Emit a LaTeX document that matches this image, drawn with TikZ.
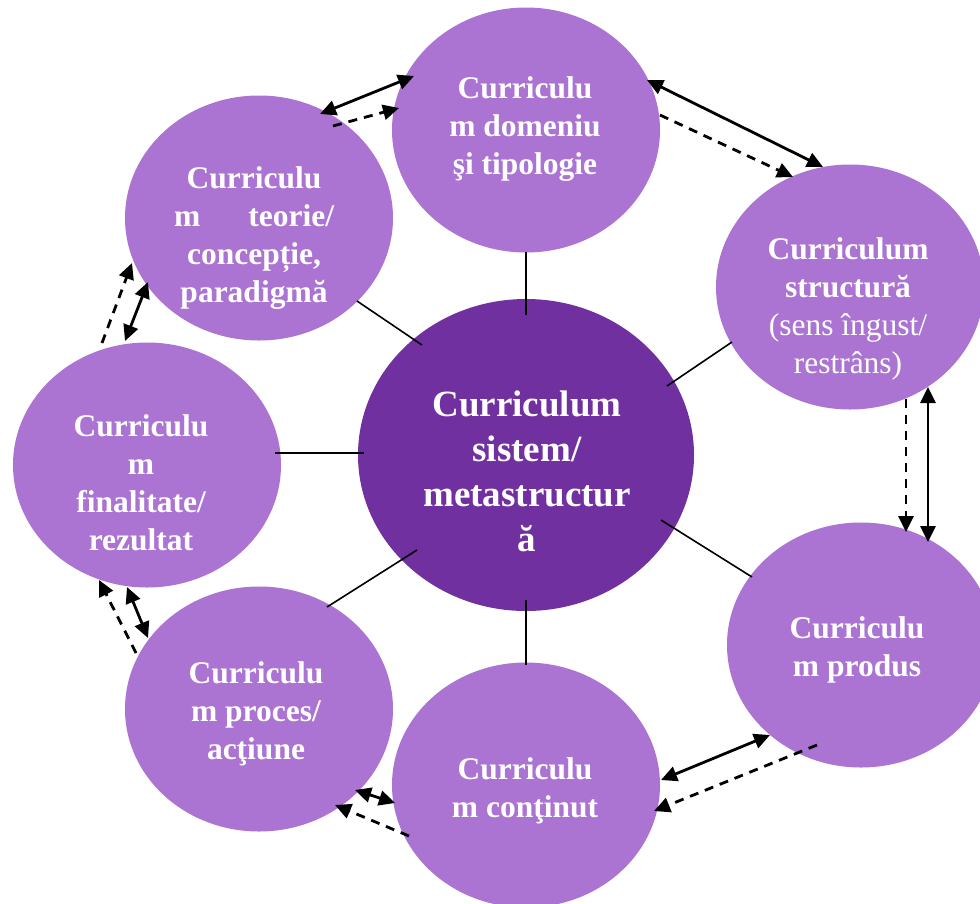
\documentclass[tikz,border=0pt]{standalone}
\usepackage{fontspec}
\setmainfont{Liberation Serif}
\usetikzlibrary{arrows.meta,shapes.geometric}
\definecolor{lightpurple}{RGB}{171,116,211}
\definecolor{darkpurple}{RGB}{112,48,160}
\tikzset{
  bubble/.style={ellipse, fill=lightpurple, draw=none, minimum width=268pt, minimum height=245pt, inner sep=0pt, outer sep=0pt},
  hub/.style={ellipse, fill=darkpurple, draw=none, minimum width=336pt, minimum height=312pt, inner sep=0pt, outer sep=0pt},
  lbl/.style={anchor=north, inner sep=0pt, text=white, align=center, font=\fontsize{31.5}{38}\selectfont\bfseries},
  hublbl/.style={lbl, font=\fontsize{37}{45}\selectfont\bfseries},
  spoke/.style={line width=1.6pt, black},
  link/.style={line width=2.8pt, {Triangle[length=16pt,width=15pt]}-{Triangle[length=16pt,width=15pt]}},
  flow/.style={line width=2.8pt, dash pattern=on 9pt off 7pt, -{Triangle[length=16pt,width=15pt]}},
}
\begin{document}
\begin{tikzpicture}[x=1pt,y=-1pt]
\useasboundingbox (0,0) rectangle (980,903);
% ellipses
\node[bubble] (dom) at (526,130) {};
\node[bubble] (teo) at (259,218) {};
\node[bubble] (str) at (850,287) {};
\node[hub]    (ctr) at (526,455) {};
\node[bubble] (fin) at (147,465) {};
\node[bubble] (pro) at (861,645) {};
\node[bubble] (prc) at (259,709) {};
\node[bubble] (con) at (526,785) {};
% spokes
\draw[spoke] ([shift={(0,122)}]dom.center) -- ([shift={(0,-140)}]ctr.center);
\draw[spoke] ([shift={(98,83)}]teo.center) -- ([shift={(-104,-110)}]ctr.center);
\draw[spoke] ([shift={(-118,55)}]str.center) -- ([shift={(141,-69)}]ctr.center);
\draw[spoke] ([shift={(128,-12)}]fin.center) -- ([shift={(-162,-2)}]ctr.center);
\draw[spoke] ([shift={(68,-102)}]prc.center) -- ([shift={(-109,95)}]ctr.center);
\draw[spoke] ([shift={(135,65)}]ctr.center) -- ([shift={(-109,-68)}]pro.center);
\draw[spoke] ([shift={(0,145)}]ctr.center) -- ([shift={(0,-120)}]con.center);
% arrows
\draw[link] ([shift={(61,-104)}]teo.center) -- ([shift={(-112,-54)}]dom.center);
\draw[flow] ([shift={(74,-92)}]teo.center) -- ([shift={(-127,-22)}]dom.center);
\draw[link] ([shift={(121,-50)}]dom.center) -- ([shift={(-27,-120)}]str.center);
\draw[flow] ([shift={(134,-15)}]dom.center) -- ([shift={(-57,-110)}]str.center);
\draw[flow] ([shift={(56,112)}]str.center) -- ([shift={(45,-113)}]pro.center);
\draw[link] ([shift={(78,100)}]str.center) -- ([shift={(67,-103)}]pro.center);
\draw[link] ([shift={(-91,90)}]pro.center) -- ([shift={(135,-5)}]con.center);
\draw[flow] ([shift={(-44,100)}]pro.center) -- ([shift={(128,26)}]con.center);
\draw[link] ([shift={(-131,18)}]con.center) -- ([shift={(96,81)}]prc.center);
\draw[flow] ([shift={(-117,51)}]con.center) -- ([shift={(76,96)}]prc.center);
\draw[link] ([shift={(-111,-71)}]prc.center) -- ([shift={(-20,122)}]fin.center);
\draw[flow] ([shift={(-123,-56)}]prc.center) -- ([shift={(-48,115)}]fin.center);
\draw[link] ([shift={(-22,-124)}]fin.center) -- ([shift={(-111,64)}]teo.center);
\draw[flow] ([shift={(-45,-122)}]fin.center) -- ([shift={(-127,45)}]teo.center);
% labels
\node[lbl] (domt) at (525,76) {Curriculu\\m domeniu\\şi tipologie};
\node[lbl] (teot) at (254,166) {Curriculu\\\makebox[160pt]{m\hfill teorie/}\\concepție,\\paradigmă};
\node[lbl] (strt) at (848,237) {Curriculum\\structură\\\mdseries(sens îngust/\\\mdseries restrâns)};
\node[hublbl] (ctrt) at (527,391) {Curriculum\\sistem/\\metastructur\\ă};
\node[lbl] (fint) at (141,414) {Curriculu\\m\\finalitate/\\rezultat};
\node[lbl] (prot) at (857,616) {Curriculu\\m produs};
\node[lbl] (prct) at (256,661) {Curriculu\\m proces/\\acţiune};
\node[lbl] (cont) at (525,757) {Curriculu\\m conţinut};
\end{tikzpicture}
\end{document}
